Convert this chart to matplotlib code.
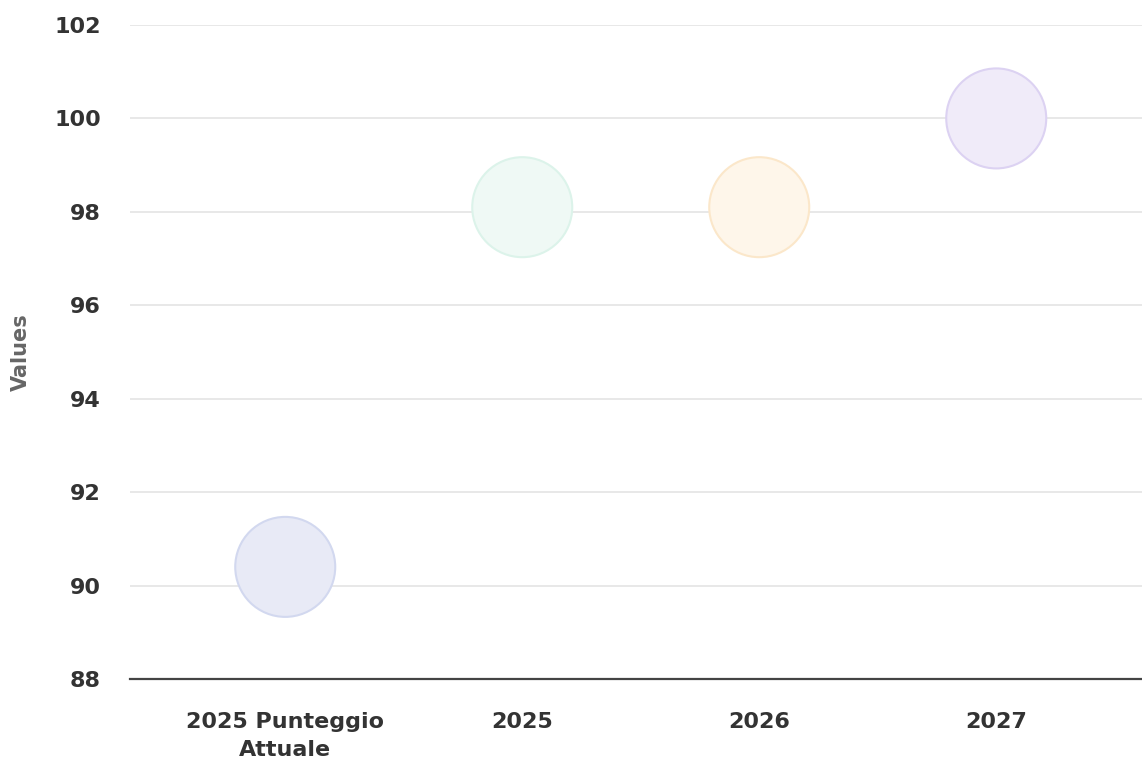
import matplotlib.pyplot as plt

categories = ["2025 Punteggio\nAttuale", "2025", "2026", "2027"]
values = [90.4, 98.1, 98.1, 100.0]
fills = ["#E8EAF6", "#EFF9F5", "#FEF6EA", "#F0EBF9"]
edges = ["#D2D8EF", "#DCF3EA", "#FBE7CA", "#DCD2F2"]
yticks = [88, 90, 92, 94, 96, 98, 100, 102]

plt.rcParams['font.family'] = ['DejaVu Sans']

fig = plt.figure(figsize=(11.42, 7.6), dpi=100)
ax = fig.add_axes([130 / 1142, 81 / 760, 1012 / 1142, 654 / 760])

x = list(range(len(categories)))
ax.scatter(x, values, s=100 ** 2 * (72 / 100) ** 2, c=fills, edgecolors=edges,
           linewidths=1.5, zorder=3)

ax.set_xlim(-0.655, 3.615)
ax.set_ylim(88, 102)
ax.set_yticks(yticks)
ax.set_xticks(x)
ax.set_xticklabels(categories)

ax.grid(axis='y', color='#E6E6E6', linewidth=1.3, zorder=0)
ax.set_axisbelow(True)
for side in ['left', 'right', 'top']:
    ax.spines[side].set_visible(False)
ax.spines['bottom'].set_color('#444444')
ax.spines['bottom'].set_linewidth(1.6)

ax.tick_params(axis='both', length=0, labelsize=16, labelcolor='#333333')
ax.tick_params(axis='y', pad=21)
ax.tick_params(axis='x', pad=24)
for lbl in ax.get_xticklabels() + ax.get_yticklabels():
    lbl.set_fontweight('bold')
for lbl in ax.get_xticklabels():
    lbl.set_linespacing(1.45)

ax.set_ylabel("Values", fontsize=15, fontweight='bold', color='#666666', labelpad=17)

fig.savefig("out.png", dpi=100)
